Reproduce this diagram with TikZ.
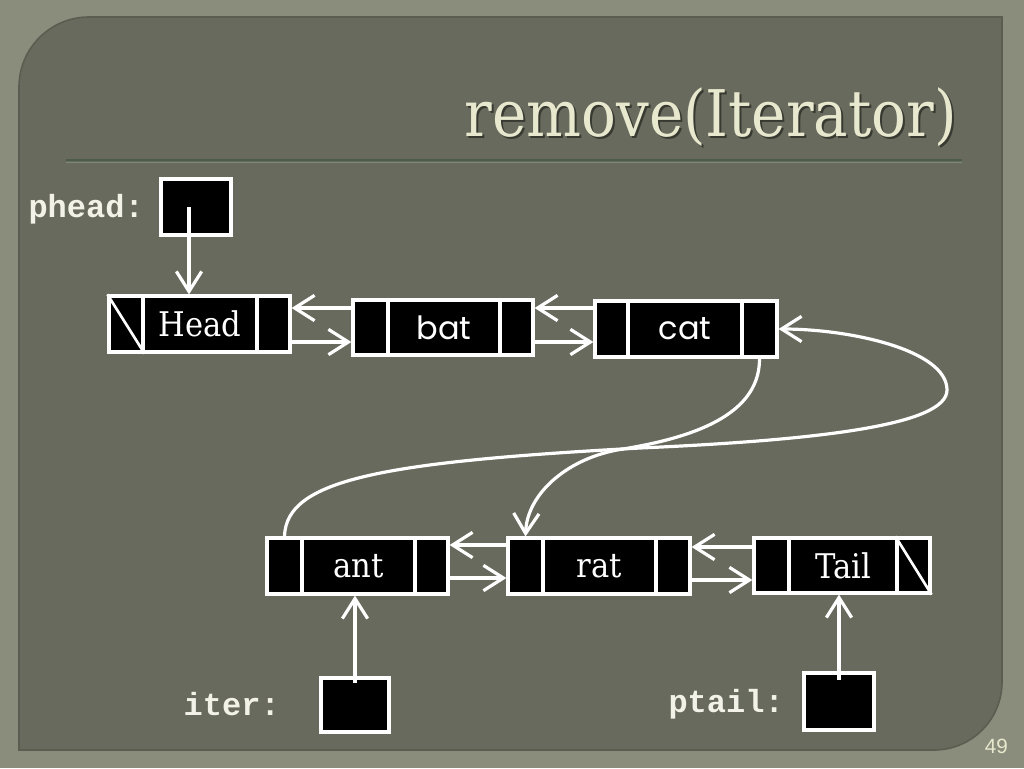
\documentclass[tikz,border=0pt]{standalone}
\usepackage{fontspec}
\usepackage{graphicx}
\usetikzlibrary{arrows.meta,fit,calc}
\newfontfamily\slabfont{DejaVu Serif Condensed}
\newfontfamily\gothfont{Poppins}
\newfontfamily\codefont{Liberation Mono}
\newfontfamily\numfont{Liberation Sans}
\definecolor{outerbg}{HTML}{8A8D7B}
\definecolor{panelbg}{HTML}{676A5C}
\definecolor{paneledge}{HTML}{5A5D50}
\definecolor{titlecol}{HTML}{E8E8CE}
\definecolor{rulecol}{HTML}{4C5C4B}
\definecolor{rulelight}{HTML}{7E8A78}
\definecolor{labelcol}{HTML}{F2F2E8}
\tikzset{
  cell/.style={draw=white, fill=black, line width=2.4pt, inner sep=0pt},
  link/.style={draw=white, line width=2.4pt, -{Straight Barb[length=15pt,width=19pt]}},
  nilline/.style={draw=white, line width=2pt},
  serifname/.style={text=white, inner sep=0pt, font=\slabfont\fontsize{25.5}{30}\selectfont},
  sansname/.style={text=white, inner sep=0pt, font=\gothfont\fontsize{24}{28}\selectfont},
  varlabel/.style={text=labelcol, font=\codefont\bfseries\fontsize{24}{28}\selectfont, anchor=base east, inner sep=0pt},
}
\begin{document}
\begin{tikzpicture}[x=0.75pt,y=-0.75pt]
\useasboundingbox (0,0) rectangle (1024,768);
\fill[outerbg] (0,0) rectangle (1024,768);
% panel
\fill[panelbg, draw=paneledge, line width=1.2pt] (19,750) -- (19,87) arc[start angle=180, end angle=270, radius=70] -- (1002,17) -- (1002,682) arc[start angle=0, end angle=90, radius=68] -- cycle;
% title
\node[anchor=base east, inner sep=0pt, text=black, opacity=0.45, font=\slabfont] (titleshadow) at (959,138) {\resizebox{369pt}{!}{\fontsize{42}{48}\selectfont remove(Iterator)}};
\node[anchor=base east, inner sep=0pt, text=titlecol, font=\slabfont] (title) at (957,136) {\resizebox{369pt}{!}{\fontsize{42}{48}\selectfont remove(Iterator)}};
\draw[rulecol, line width=1.5pt] (66,160) -- (962,160);
\draw[rulelight, line width=0.6pt] (66,162) -- (962,162);

% Head node
\node[cell, fit={(109,296) (143,352)}] (headL) {};
\draw[nilline] (headL.north west) -- (headL.south east);
\node[cell, fit={(143,296) (257,352)}, label={[serifname]center:Head}] (headM) {};
\node[cell, fit={(257,296) (290,352)}] (headR) {};
% bat
\node[cell, fit={(353,300) (388,355)}] (batL) {};
\node[cell, fit={(388,300) (500,355)}, label={[sansname]center:bat}] (batM) {};
\node[cell, fit={(500,300) (533,355)}] (batR) {};
% cat
\node[cell, fit={(595,301) (628,357)}] (catL) {};
\node[cell, fit={(628,301) (742,357)}, label={[sansname]center:cat}] (catM) {};
\node[cell, fit={(742,301) (777,357)}] (catR) {};
% ant
\node[cell, fit={(267,538) (302,594)}] (antL) {};
\node[cell, fit={(302,538) (415,594)}, label={[serifname]center:ant}] (antM) {};
\node[cell, fit={(415,538) (448,594)}] (antR) {};
% rat
\node[cell, fit={(508,538) (543,594)}] (ratL) {};
\node[cell, fit={(543,538) (656,594)}, label={[serifname]center:rat}] (ratM) {};
\node[cell, fit={(656,538) (690,594)}] (ratR) {};
% Tail
\node[cell, fit={(754,538) (789,593)}] (tailL) {};
\node[cell, fit={(789,538) (897,593)}, label={[serifname]center:Tail}] (tailM) {};
\node[cell, fit={(897,538) (930,593)}] (tailR) {};
\draw[nilline] (tailR.north west) -- (tailR.south east);

% pointer variables
\node[varlabel] (pheadlbl) at (144,217) {phead:};
\node[cell, fit={(161,179) (231,235)}] (pheadbox) {};
\node[varlabel] (iterlbl) at (280,715) {iter:};
\node[cell, fit={(321,678) (389,732)}] (iterbox) {};
\node[varlabel] (ptaillbl) at (784,712) {ptail:};
\node[cell, fit={(804,673) (874,730)}] (ptailbox) {};

\coordinate (phsrc) at (189,207);
\coordinate (itsrc) at (355,683);
\coordinate (ptsrc) at (839,680);
\draw[link] (phsrc) -- (phsrc |- headM.north);
\draw[link] (itsrc) -- (itsrc |- antM.south);
\draw[link] (ptsrc) -- (ptsrc |- tailM.south);

% horizontal links
\draw[link] (batL.west |- 0,308) -- (headR.east |- 0,308);
\draw[link] (headR.east |- 0,342) -- (batL.west |- 0,342);
\draw[link] (catL.west |- 0,308) -- (batR.east |- 0,308);
\draw[link] (batR.east |- 0,342) -- (catL.west |- 0,342);
\draw[link] (ratL.west |- 0,545) -- (antR.east |- 0,545);
\draw[link] (antR.east |- 0,578) -- (ratL.west |- 0,578);
\draw[link] (tailL.west |- 0,547) -- (ratR.east |- 0,547);
\draw[link] (ratR.east |- 0,580) -- (tailL.west |- 0,580);

% curved links
\draw[link] (antL.north) .. controls (286,480) and (380,462) .. (640,448)
  .. controls (820,440) and (947,425) .. (947,390)
  .. controls (947,350) and (850,329) .. (catR.east);
\draw[link] (catR.south) .. controls (760,420) and (680,440) .. (617,450)
  .. controls (565,460) and (527,495) .. (ratL.north);

% page number
\node[anchor=base east, inner sep=0pt, text=titlecol, font=\numfont\fontsize{15.5}{18}\selectfont] (pagenum) at (1008,753) {49};
\end{tikzpicture}
\end{document}
